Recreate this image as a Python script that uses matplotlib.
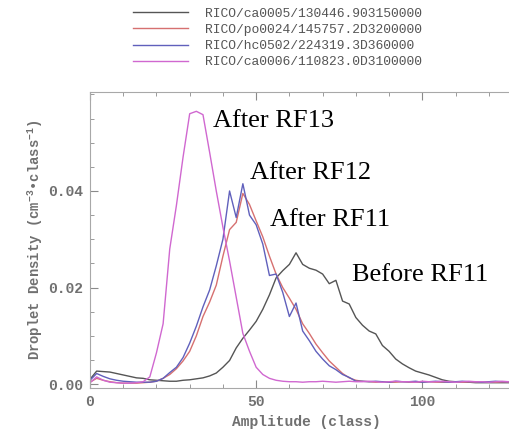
import matplotlib
matplotlib.use("Agg")
import matplotlib.pyplot as plt
from matplotlib.ticker import MultipleLocator, FormatStrFormatter

plt.rcParams["mathtext.fontset"] = "custom"
plt.rcParams["mathtext.rm"] = "Liberation Mono:bold"
plt.rcParams["mathtext.it"] = "Liberation Mono:bold"
plt.rcParams["mathtext.bf"] = "Liberation Mono:bold"

# amplitude classes (every second class)
amplitude = list(range(0, 128, 2))

before_rf11 = [
    0.0010, 0.0027, 0.0026, 0.0025, 0.0022, 0.0019, 0.0016, 0.0013, 0.0012, 0.0009,
    0.0008, 0.0007, 0.0006, 0.0006, 0.0008, 0.0009, 0.0011, 0.0013, 0.0017, 0.0023,
    0.0035, 0.0049, 0.0075, 0.0095, 0.0112, 0.0130, 0.0155, 0.0185, 0.0220, 0.0235,
    0.0248, 0.0272, 0.0248, 0.0240, 0.0236, 0.0228, 0.0208, 0.0215, 0.0172, 0.0166,
    0.0138, 0.0122, 0.0110, 0.0104, 0.0080, 0.0068, 0.0052, 0.0042, 0.0034, 0.0027,
    0.0023, 0.0019, 0.0014, 0.0009, 0.0006, 0.0005, 0.0004, 0.0004, 0.0003, 0.0003,
    0.0003, 0.0003, 0.0003, 0.0003,
]
after_rf11 = [
    0.0004, 0.0012, 0.0008, 0.0005, 0.0003, 0.0002, 0.0002, 0.0002, 0.0003, 0.0004,
    0.0006, 0.0012, 0.0020, 0.0032, 0.0048, 0.0068, 0.0100, 0.0140, 0.0170, 0.0205,
    0.0265, 0.0320, 0.0335, 0.0395, 0.0372, 0.0338, 0.0305, 0.0265, 0.0228, 0.0200,
    0.0178, 0.0155, 0.0125, 0.0105, 0.0083, 0.0065, 0.0048, 0.0035, 0.0022, 0.0013,
    0.0008, 0.0006, 0.0005, 0.0004, 0.0005, 0.0004, 0.0004, 0.0005, 0.0004, 0.0004,
    0.0004, 0.0005, 0.0004, 0.0004, 0.0004, 0.0005, 0.0004, 0.0004, 0.0004, 0.0004,
    0.0005, 0.0004, 0.0004, 0.0004,
]
after_rf12 = [
    0.0008, 0.0022, 0.0016, 0.0011, 0.0008, 0.0006, 0.0005, 0.0004, 0.0004, 0.0004,
    0.0006, 0.0012, 0.0024, 0.0035, 0.0055, 0.0085, 0.0120, 0.0160, 0.0195, 0.0245,
    0.0300, 0.0400, 0.0345, 0.0415, 0.0350, 0.0330, 0.0290, 0.0225, 0.0228, 0.0190,
    0.0140, 0.0168, 0.0110, 0.0090, 0.0068, 0.0052, 0.0038, 0.0030, 0.0020, 0.0014,
    0.0006, 0.0006, 0.0005, 0.0006, 0.0005, 0.0004, 0.0006, 0.0005, 0.0005, 0.0006,
    0.0004, 0.0005, 0.0006, 0.0005, 0.0004, 0.0005, 0.0006, 0.0005, 0.0005, 0.0004,
    0.0005, 0.0006, 0.0005, 0.0005,
]
after_rf13 = [
    0.0003, 0.0015, 0.0008, 0.0004, 0.0003, 0.0002, 0.0002, 0.0003, 0.0005, 0.0015,
    0.0065, 0.0125, 0.0280, 0.0370, 0.0470, 0.0560, 0.0565, 0.0558, 0.0480, 0.0400,
    0.0325, 0.0255, 0.0180, 0.0105, 0.0068, 0.0035, 0.0020, 0.0012, 0.0008, 0.0006,
    0.0005, 0.0005, 0.0004, 0.0005, 0.0005, 0.0006, 0.0005, 0.0004, 0.0005, 0.0006,
    0.0005, 0.0005, 0.0006, 0.0005, 0.0004, 0.0005, 0.0006, 0.0005, 0.0005, 0.0004,
    0.0006, 0.0005, 0.0005, 0.0006, 0.0005, 0.0004, 0.0005, 0.0006, 0.0005, 0.0005,
    0.0004, 0.0005, 0.0006, 0.0005,
]

series = [before_rf11, after_rf11, after_rf12, after_rf13]
legend_labels = [
    "RICO/ca0005/130446.903150000",
    "RICO/po0024/145757.2D3200000",
    "RICO/hc0502/224319.3D360000",
    "RICO/ca0006/110823.0D3100000",
]
colors = ["#555555", "#d67070", "#6060bc", "#d068d0"]

notes = ["After RF13", "After RF12", "After RF11", "Before RF11"]
note_x = [37.0, 48.2, 54.2, 78.9]
note_y = [0.0545, 0.0437, 0.0340, 0.0226]

fig = plt.figure(figsize=(5.1, 4.4), dpi=100)
ax = fig.add_axes([90 / 510, 52 / 440, 432 / 510, 296 / 440])

for vals, lab, col in zip(series, legend_labels, colors):
    ax.plot(amplitude, vals, color=col, lw=1.0, label=lab)

for txt, tx, ty in zip(notes, note_x, note_y):
    ax.text(tx, ty, txt, fontsize=19, family="Liberation Serif",
            ha="left", va="center", color="black")

ax.set_xlim(0, 130)
ax.set_ylim(-0.0008, 0.0605)
ax.set_xticks([0, 50, 100])
ax.set_yticks([0.0, 0.02, 0.04])
ax.xaxis.set_minor_locator(MultipleLocator(10))
ax.yaxis.set_minor_locator(MultipleLocator(0.005))
ax.yaxis.set_major_formatter(FormatStrFormatter("%.2f"))
ax.tick_params(which="both", direction="in", top=True, right=True,
               colors="#8a8a8a", labelcolor="#707070")
ax.tick_params(which="major", length=6, pad=5)
ax.tick_params(which="minor", length=3)
for lbl in ax.get_xticklabels() + ax.get_yticklabels():
    lbl.set_family("Liberation Mono")
    lbl.set_fontweight("bold")
    lbl.set_fontsize(10.5)
for sp in ax.spines.values():
    sp.set_color("#a8a8a8")

ax.set_xlabel("Amplitude (class)", family="Liberation Mono", fontweight="bold",
              fontsize=10.5, color="#707070", labelpad=4)
ax.set_ylabel("Droplet Density (cm$^{-3}$•class$^{-1}$)", family="Liberation Mono",
              fontweight="bold", fontsize=10, color="#707070", labelpad=2)

fig.legend(loc="upper left", bbox_to_anchor=(125 / 510, 1.0), frameon=False,
           prop={"family": "Liberation Mono", "size": 9.4},
           labelcolor="#555555", handlelength=4.2, labelspacing=0.3,
           handletextpad=1.3, borderaxespad=0.2)

fig.savefig("out.png", dpi=100)
